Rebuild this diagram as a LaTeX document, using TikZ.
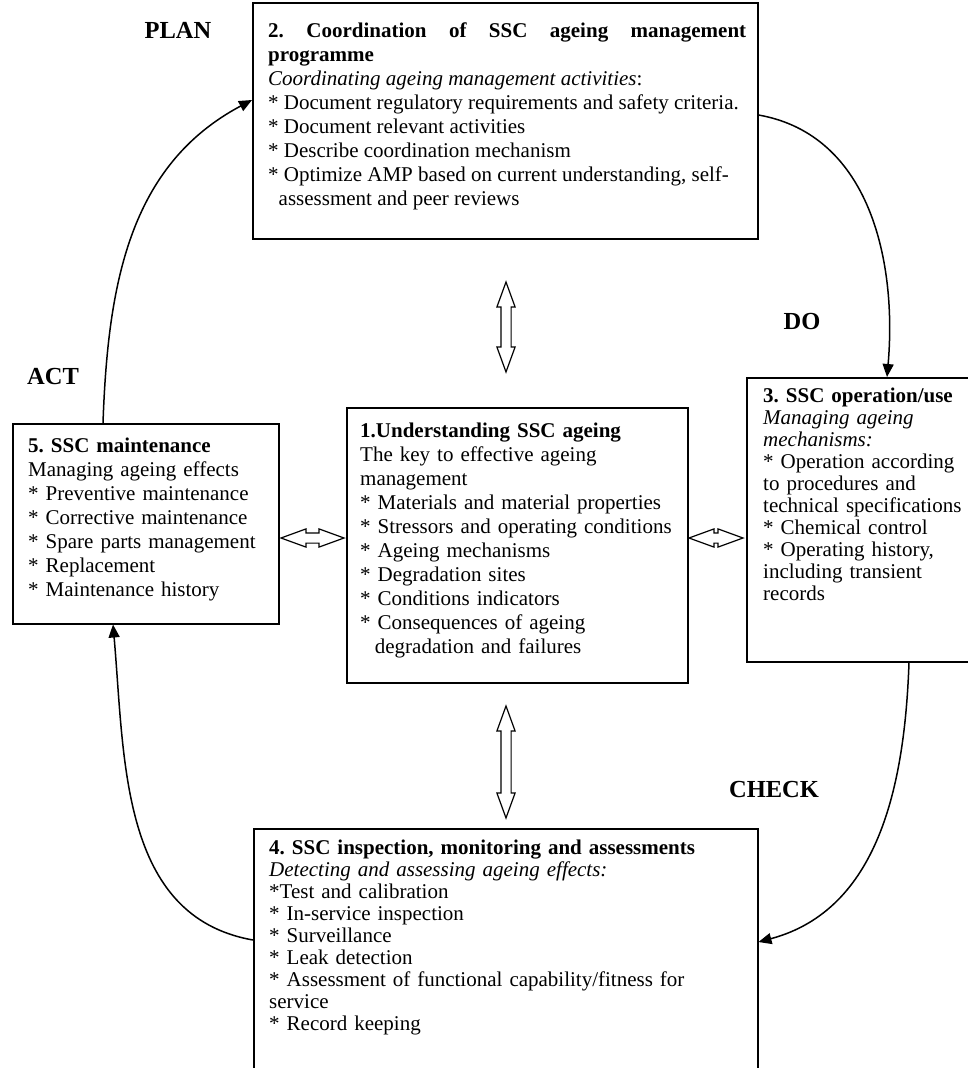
\documentclass[tikz,border=0pt]{standalone}
\usepackage{fontspec}
\setmainfont{Liberation Serif}
\usetikzlibrary{shapes.arrows, arrows.meta}
\frenchspacing

\tikzset{
  stage/.style={draw, line width=1.5pt, anchor=north west, inner sep=0pt},
  stagetext/.style={anchor=north west, inner sep=0pt, align=left, font=\fontsize{21}{24}\selectfont},
  phase/.style={font=\fontsize{24.5}{28}\selectfont\bfseries},
  cyclearrow/.style={line width=1.5pt, -{Triangle[length=13pt,width=11pt]}},
  link/.style={double arrow, draw, line width=1.2pt, inner sep=4.5pt, minimum width=17pt,
    double arrow head extend=4pt, double arrow tip angle=40},
}

\begin{document}
\begin{tikzpicture}[x=1pt, y=-1pt]
\useasboundingbox (0,0) rectangle (968,1068);
\fill[white] (0,0) rectangle (968,1068);

% boxes
\node[stage, minimum width=505, minimum height=236] (coord) at (252,2) {};
\node[stage, minimum width=341, minimum height=275] (core) at (346,407) {};
\node[stage, minimum width=266, minimum height=200] (maint) at (12,423) {};
\node[stage, minimum width=230, minimum height=284] (oper) at (746,377) {};
\node[stage, minimum width=504, minimum height=250] (insp) at (253,828) {};

% box texts ({*} keeps \\ from taking the star)
\node[stagetext, text width=478, align=justify] (coordtxt) at ([xshift=16pt, yshift=-18.2pt]coord.north west)
  {\strut\textbf{2. Coordination of SSC ageing management\linebreak programme}\\
   \textit{Coordinating ageing management activities}:\\
   {*} Document regulatory requirements and safety criteria.\\
   {*} Document relevant activities\\
   {*} Describe coordination mechanism\\
   {*} Optimize AMP based on current understanding, self-\\
   \hspace*{0.5em}assessment and peer reviews};
\node[stagetext, text width=320] (coretxt) at ([xshift=14pt, yshift=-13.2pt]core.north west)
  {\strut\textbf{1.Understanding SSC ageing}\\
   The key to effective ageing\\
   management\\
   {*} Materials and material properties\\
   {*} Stressors and operating conditions\\
   {*} Ageing mechanisms\\
   {*} Degradation sites\\
   {*} Conditions indicators\\
   {*} Consequences of ageing\\
   \hspace*{0.7em}degradation and failures};
\node[stagetext, text width=240] (mainttxt) at ([xshift=16pt, yshift=-12.2pt]maint.north west)
  {\strut\textbf{5. SSC maintenance}\\
   Managing ageing effects\\
   {*} Preventive maintenance\\
   {*} Corrective maintenance\\
   {*} Spare parts management\\
   {*} Replacement\\
   {*} Maintenance history};
\node[stagetext, text width=205, font=\fontsize{21}{22}\selectfont] (opertxt) at ([xshift=17pt, yshift=-9.6pt]oper.north west)
  {\strut\textbf{3. SSC operation/use}\\
   \textit{Managing ageing}\\
   \textit{mechanisms:}\\
   {*} Operation according\\
   to procedures and\\
   technical specifications\\
   {*} Chemical control\\
   {*} Operating history,\\
   including transient\\
   records};
\node[stagetext, text width=480, font=\fontsize{21}{22}\selectfont] (insptxt) at ([xshift=16pt, yshift=-10.6pt]insp.north west)
  {\strut\textbf{4. SSC inspection, monitoring and assessments}\\
   \textit{Detecting and assessing ageing effects:}\\
   {*}Test and calibration\\
   {*} In-service inspection\\
   {*} Surveillance\\
   {*} Leak detection\\
   {*} Assessment of functional capability/fitness for\\
   service\\
   {*} Record keeping};

% PDCA labels
\node[phase] (plan) at (178,30) {PLAN};
\node[phase] (do) at (802,322) {DO};
\node[phase] (act) at (53,377) {ACT};
\node[phase] (check) at (774,789) {CHECK};

% two-way links to the centre box
\node[link, rotate=90, minimum height=90] (linkup) at (506,327) {};
\node[link, rotate=90, minimum height=112] (linkdown) at (506,762) {};
\node[link, minimum height=63] (linkleft) at (312.5,538) {};
\node[link, minimum height=54] (linkright) at (716,538) {};

% the cycle
\draw[cyclearrow] ([xshift=91pt]maint.north west) to[out=88, in=208] ([yshift=-98pt]coord.north west);
\draw[cyclearrow] ([yshift=-113pt]coord.north east) to[out=-10, in=85] ([xshift=141pt]oper.north west);
\draw[cyclearrow] ([xshift=163pt]oper.south west) to[out=-92, in=15] ([yshift=-114pt]insp.north east);
\draw[cyclearrow] ([yshift=-112pt]insp.north west) to[out=170, in=-85] ([xshift=101pt]maint.south west);
\end{tikzpicture}
\end{document}
